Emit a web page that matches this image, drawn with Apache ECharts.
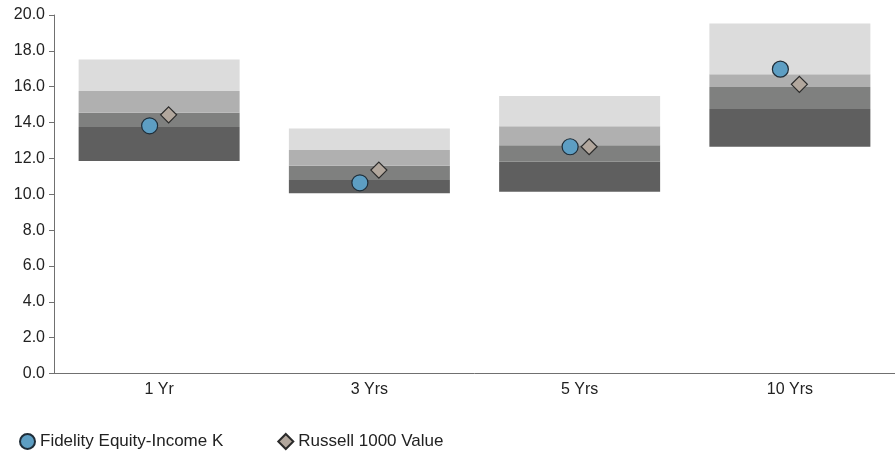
<!DOCTYPE html>
<html>
<head>
<meta charset="utf-8">
<script src="https://cdn.jsdelivr.net/npm/echarts@6/dist/echarts.min.js"></script>
<style>
  html, body { margin: 0; padding: 0; background: #ffffff; }
  #chart { width: 895px; height: 453px; }
</style>
</head>
<body>
<div id="chart"></div>
<script>
// ---- data ----
var categories = ['1 Yr', '3 Yrs', '5 Yrs', '10 Yrs'];
// band boundaries (bottom to top)
var bandBottom = [11.85, 10.05, 10.14, 12.65];
var band1Top   = [13.75, 10.79, 11.81, 14.75];
var band2Top   = [14.55, 11.59, 12.74, 15.98];
var band3Top   = [15.76, 12.47, 13.80, 16.70];
var bandTop    = [17.52, 13.67, 15.48, 19.53];
// series values
var fundValues      = [13.82, 10.64, 12.65, 16.98];
var benchmarkValues = [14.43, 11.35, 12.65, 16.13];
var fundName = 'Fidelity Equity-Income K';
var benchName = 'Russell 1000 Value';
// y axis ticks
var yMin = 0, yMax = 20, yStep = 2;

function diff(a, b) { return a.map(function (v, i) { return +(v - b[i]).toFixed(2); }); }

var FONT = 'Liberation Sans, Arial, sans-serif';
var bandColors = ['#5f5f5f', '#7f807f', '#b0b0b0', '#dcdcdc'];
var bandData = [
  diff(band1Top, bandBottom),
  diff(band2Top, band1Top),
  diff(band3Top, band2Top),
  diff(bandTop, band3Top)
];

var series = [{
  type: 'bar', stack: 'range', barWidth: 161, silent: true,
  itemStyle: { color: 'rgba(0,0,0,0)' },
  data: bandBottom
}];
bandData.forEach(function (d, i) {
  series.push({
    type: 'bar', stack: 'range', barWidth: 161, silent: true,
    itemStyle: { color: bandColors[i] },
    data: d
  });
});
series.push({
  name: fundName, type: 'scatter', symbol: 'circle', symbolSize: 16,
  symbolOffset: [-9.5, 0], z: 5,
  itemStyle: { color: '#5d9ec3', borderColor: '#1f2d38', borderWidth: 1.2, opacity: 1 },
  data: fundValues
});
series.push({
  name: benchName, type: 'scatter', symbol: 'diamond', symbolSize: 16,
  symbolOffset: [9.5, 0], z: 5,
  itemStyle: { color: '#b2a79d', borderColor: '#2a2a2a', borderWidth: 1.2, opacity: 1 },
  data: benchmarkValues
});

var chart = echarts.init(document.getElementById('chart'), null, { renderer: 'canvas' });
chart.setOption({
  animation: false,
  backgroundColor: '#ffffff',
  textStyle: { fontFamily: FONT },
  grid: { left: 54, top: 15, width: 846, height: 358.5, containLabel: false },
  legend: {
    data: [
      { name: fundName, icon: 'circle' },
      { name: benchName, icon: 'diamond' }
    ],
    left: 14, top: 428,
    itemWidth: 15, itemHeight: 15, itemGap: 54,
    textStyle: { color: '#222', fontSize: 17, fontFamily: FONT }
  },
  xAxis: {
    type: 'category', data: categories, boundaryGap: true,
    axisLine: { lineStyle: { color: '#707070', width: 1 } },
    axisTick: { alignWithLabel: true, length: 5, lineStyle: { color: '#707070' } },
    axisLabel: { color: '#222', fontSize: 16, margin: 8, fontFamily: FONT },
    splitLine: { show: false }
  },
  yAxis: {
    type: 'value', min: yMin, max: yMax, interval: yStep,
    axisLine: { show: true, lineStyle: { color: '#707070', width: 1 } },
    axisTick: { show: true, length: 5, lineStyle: { color: '#707070' } },
    axisLabel: { color: '#222', fontSize: 16, margin: 9, fontFamily: FONT,
      formatter: function (v) { return v.toFixed(1); } },
    splitLine: { show: false }
  },
  series: series
});
</script>
</body>
</html>
